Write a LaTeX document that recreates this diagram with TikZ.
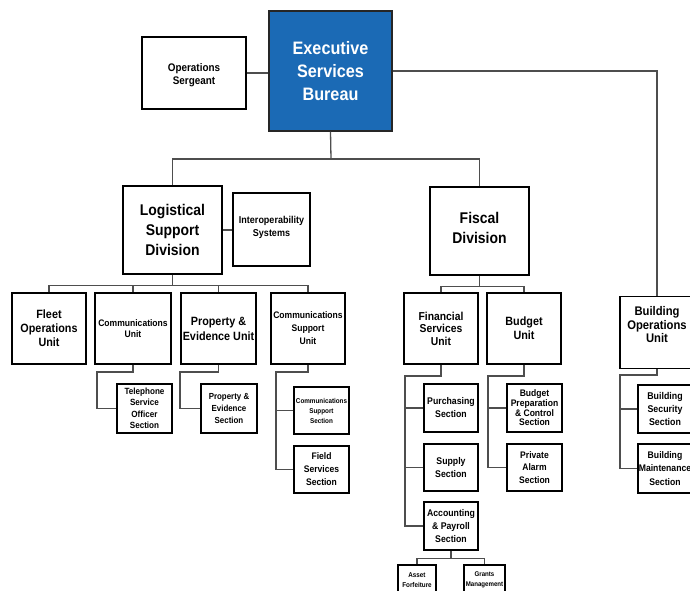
\documentclass[tikz,border=0pt]{standalone}
\usepackage{fontspec}
\setmainfont{Liberation Sans}[FakeStretch=0.9]
\definecolor{esbblue}{HTML}{1B6AB5}
\definecolor{linegray}{HTML}{4E4E4E}
\tikzset{
  box/.style={draw=black, line width=1.4pt, fill=white, inner sep=0pt,
    align=center, text=black},
  fsz/.style 2 args={font=\fontsize{#1pt}{#2pt}\selectfont\bfseries},
  link/.style={draw=linegray, line width=1.3pt},
}
\begin{document}
\begin{tikzpicture}[x=1pt, y=-1pt]
\clip (0,0) rectangle (690,591);
\fill[white] (0,0) rectangle (690,591);

% top level
\node[box, fill=esbblue, draw=black!85, text=white, fsz={18}{23}, minimum width=123pt, minimum height=120pt] (exec) at (330.5,71) {Executive\\Services\\Bureau};
\node[box, minimum width=104pt, minimum height=72pt,
  label={[fsz={11}{13}, align=center, yshift=-2.5pt]center:Operations\\Sergeant}] (sgt) at (194,73) {};

% divisions
\node[box, fsz={15.5}{20}, minimum width=99pt, minimum height=88pt] (lsd) at (172.5,230) {Logistical\\Support\\Division};
\node[box, minimum width=77pt, minimum height=73pt,
  label={[fsz={10}{12.5}, align=center, yshift=2pt]center:Interoperability\\Systems}] (inter) at (271.5,229.5) {};
\node[box, minimum width=99pt, minimum height=88pt,
  label={[fsz={15.5}{20}, align=center, yshift=3pt]center:Fiscal\\Division}] (fiscal) at (479.5,231) {};

% units
\node[box, fsz={12}{14}, minimum width=74pt, minimum height=71pt] (fleet) at (49,328.5) {Fleet\\Operations\\Unit};
\node[box, fsz={9.5}{11}, minimum width=76pt, minimum height=71pt] (comm) at (133,328.5) {Communications\\Unit};
\node[box, fsz={12}{15}, minimum width=75pt, minimum height=71pt] (prop) at (218.5,328.5) {Property \&\\Evidence Unit};
\node[box, fsz={9.5}{13}, minimum width=74pt, minimum height=71pt] (csu) at (308,328.5) {Communications\\Support\\Unit};
\node[box, fsz={11.5}{12.5}, minimum width=74pt, minimum height=71pt] (fsu) at (441,328.5) {Financial\\Services\\Unit};
\node[box, fsz={12}{14}, minimum width=74pt, minimum height=71pt] (budget) at (524,328.5) {Budget\\Unit};
\node[box, minimum width=74pt, minimum height=72pt,
  label={[fsz={12.5}{13.5}, align=center, yshift=7.5pt]center:Building\\Operations\\Unit}] (bldg) at (657,332.5) {};

% sections
\node[box, fsz={9}{11.5}, minimum width=55pt, minimum height=49pt] (tel) at (144.5,408.5) {Telephone\\Service\\Officer\\Section};
\node[box, fsz={8.8}{12}, minimum width=56pt, minimum height=49pt] (pes) at (229,408.5) {Property \&\\Evidence\\Section};
\node[box, fsz={7}{10}, minimum width=55pt, minimum height=47pt] (css) at (321.5,410.5) {Communications\\Support\\Section};
\node[box, fsz={9.5}{13}, minimum width=55pt, minimum height=47pt] (fss) at (321.5,469.5) {Field\\Services\\Section};
\node[box, fsz={9.7}{13}, minimum width=54pt, minimum height=48pt] (purch) at (451,408) {Purchasing\\Section};
\node[box, fsz={9.7}{13}, minimum width=54pt, minimum height=47pt] (supply) at (451,467.5) {Supply\\Section};
\node[box, fsz={9.7}{13.3}, minimum width=54pt, minimum height=48pt] (acct) at (451,526) {Accounting\\\& Payroll\\Section};
\node[box, fsz={9.5}{9.7}, minimum width=55pt, minimum height=48pt] (bprep) at (534.5,408) {Budget\\Preparation\\\& Control\\Section};
\node[box, fsz={9.5}{12.7}, minimum width=55pt, minimum height=47pt] (alarm) at (534.5,467.5) {Private\\Alarm\\Section};
\node[box, fsz={9.8}{13.3}, minimum width=54pt, minimum height=48pt] (bsec) at (665,409) {Building\\Security\\Section};
\node[box, fsz={9.6}{13.3}, minimum width=54pt, minimum height=49pt] (bmaint) at (665,468.5) {Building\\Maintenance\\Section};
\node[box, fsz={7}{10}, minimum width=38pt, minimum height=30pt] (asset) at (417,580) {Asset\\Forfeiture};
\node[box, fsz={6.8}{10}, minimum width=41pt, minimum height=30pt] (grants) at (484.5,580) {Grants\\Management};

% connectors: top level
\coordinate (busA) at (331,159);
\draw[link] (exec.south) -- (busA);
\draw[link] (lsd.north) |- (busA) -| (fiscal.north);
\draw[link] (sgt.east) -- (sgt.east -| exec.west);
\draw[link] (exec.east) -| (bldg.north);
\draw[link] (lsd.east) -- (lsd.east -| inter.west);

% logistical support division
\draw[link] (lsd.south) -- ++(0,11) coordinate (busL);
\draw[link] (fleet.north) |- (busL) -| (csu.north);
\draw[link] (comm.north) -- (comm.north |- busL);
\draw[link] (prop.north) -- (prop.north |- busL);

% fiscal division
\draw[link] (fiscal.south) -- ++(0,11) coordinate (busF);
\draw[link] (fsu.north) |- (busF) -| (budget.north);

% section trunks
\draw[link] (comm.south) |- (97,372) |- (tel.west);
\draw[link] (prop.south) |- (180,372) |- (pes.west);
\draw[link] (csu.south) |- (276,372) |- (fss.west);
\draw[link] (css.west) -- ++(-18,0);
\draw[link] (fsu.south) |- (405,376) |- (acct.west);
\draw[link] (purch.west) -- ++(-19,0);
\draw[link] (supply.west) -- ++(-19,0);
\draw[link] (budget.south) |- (488,376) |- (alarm.west);
\draw[link] (bprep.west) -- ++(-19,0);
\draw[link] (bldg.south) |- (620,375) |- (bmaint.west);
\draw[link] (bsec.west) -- ++(-18,0);
\draw[link] (acct.south) -- ++(0,8) coordinate (busAc);
\draw[link] (asset.north) |- (busAc) -| (grants.north);
\end{tikzpicture}
\end{document}
